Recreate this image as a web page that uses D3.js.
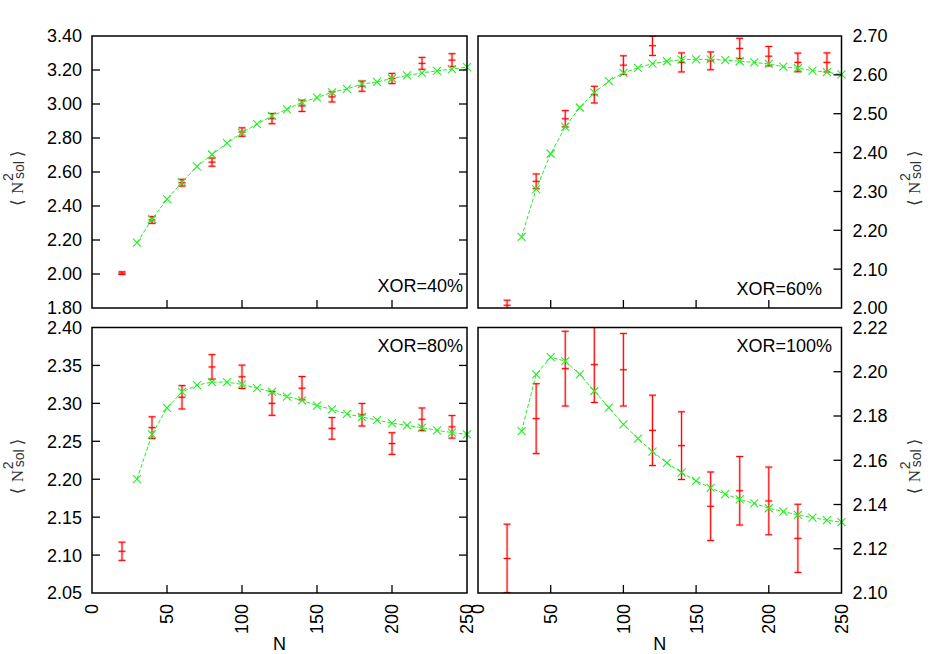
<!DOCTYPE html>
<html>
<head>
<meta charset="utf-8">
<script src="https://cdn.jsdelivr.net/npm/d3@7"></script>
<style>
  html, body { margin: 0; padding: 0; background: #fff; }
  svg { display: block; }
  text { font-family: "Liberation Sans", Arial, sans-serif; fill: #000; }
</style>
</head>
<body>
<svg id="chart" width="934" height="654"></svg>
<script>
// ---------------- data ----------------
const nFit = [30,40,50,60,70,80,90,100,110,120,130,140,150,160,170,180,190,200,210,220,230,240,250];
const nSim = [20,40,60,80,100,120,140,160,180,200,220,240];
const nSim100 = [20,40,60,80,100,120,140,160,180,200,220];

const fit40 = [2.184,2.322,2.440,2.540,2.633,2.703,2.770,2.831,2.882,2.930,2.969,3.010,3.038,3.069,3.089,3.117,3.130,3.150,3.168,3.183,3.195,3.205,3.217];
const sim40 = [2.005,2.318,2.537,2.658,2.835,2.914,2.989,3.042,3.105,3.150,3.239,3.258];
const err40 = [0.008,0.020,0.020,0.024,0.025,0.030,0.033,0.030,0.030,0.030,0.035,0.038];

const fit60 = [2.183,2.306,2.397,2.466,2.516,2.554,2.584,2.605,2.618,2.629,2.635,2.639,2.640,2.640,2.638,2.635,2.632,2.628,2.621,2.617,2.611,2.607,2.601];
const sim60 = [2.007,2.326,2.487,2.549,2.625,2.675,2.632,2.636,2.668,2.648,2.632,2.632];
const err60 = [0.013,0.019,0.021,0.0215,0.024,0.025,0.0245,0.023,0.026,0.025,0.024,0.0245];

const fit80 = [2.200,2.259,2.294,2.315,2.324,2.328,2.328,2.325,2.320,2.315,2.309,2.304,2.297,2.292,2.286,2.282,2.278,2.274,2.271,2.268,2.2645,2.2614,2.259];
const sim80 = [2.105,2.268,2.308,2.348,2.335,2.300,2.320,2.267,2.285,2.247,2.279,2.269];
const err80 = [0.012,0.0143,0.0154,0.0162,0.0154,0.0158,0.0154,0.0143,0.0149,0.0143,0.0149,0.0149];

const fit100 = [2.1732,2.1988,2.2066,2.2048,2.1988,2.1913,2.1838,2.1762,2.1698,2.1639,2.1588,2.1544,2.1507,2.1475,2.1447,2.1423,2.1405,2.1383,2.1368,2.1353,2.1341,2.1329,2.1320];
const sim100 = [2.1156,2.1788,2.2014,2.2032,2.2009,2.1735,2.1666,2.1392,2.1462,2.1416,2.1247];
const err100 = [0.0155,0.0158,0.0169,0.0171,0.0164,0.0159,0.0153,0.0155,0.0155,0.0153,0.0154];

const xTicks = [0,50,100,150,200,250];
const yTicks40 = [1.80,2.00,2.20,2.40,2.60,2.80,3.00,3.20,3.40];
const yTicks60 = [2.00,2.10,2.20,2.30,2.40,2.50,2.60,2.70];
const yTicks80 = [2.05,2.10,2.15,2.20,2.25,2.30,2.35,2.40];
const yTicks100 = [2.10,2.12,2.14,2.16,2.18,2.20,2.22];
const labels = ["XOR=40%","XOR=60%","XOR=80%","XOR=100%"];

// ---------------- layout ----------------
const panels = [
  {x0:92,  x1:467,   y0:36,    y1:308, dom:[1.80,3.40], ticks:yTicks40,  side:"left",  bottom:false,
   fit:fit40, sim:sim40, err:err40, nS:nSim, label:labels[0], lx:463, ly:292},
  {x0:478, x1:841.5, y0:36,    y1:308, dom:[2.00,2.70], ticks:yTicks60,  side:"right", bottom:false,
   fit:fit60, sim:sim60, err:err60, nS:nSim, label:labels[1], lx:822, ly:295},
  {x0:92,  x1:467,   y0:327.5, y1:593, dom:[2.05,2.40], ticks:yTicks80,  side:"left",  bottom:true,
   fit:fit80, sim:sim80, err:err80, nS:nSim, label:labels[2], lx:463, ly:352},
  {x0:478, x1:841.5, y0:327.5, y1:593, dom:[2.10,2.22], ticks:yTicks100, side:"right", bottom:true,
   fit:fit100, sim:sim100, err:err100, nS:nSim100, label:labels[3], lx:832, ly:352}
];

const svg = d3.select("#chart");
const defs = svg.append("defs");
const fmt = d3.format(".2f");

panels.forEach((p, i) => {
  const x = d3.scaleLinear().domain([0,250]).range([p.x0, p.x1]);
  const y = d3.scaleLinear().domain(p.dom).range([p.y1, p.y0]);
  const g = svg.append("g");

  defs.append("clipPath").attr("id","clip"+i)
    .append("rect").attr("x",p.x0).attr("y",p.y0)
    .attr("width",p.x1-p.x0).attr("height",p.y1-p.y0);
  const clipG = g.append("g").attr("clip-path","url(#clip"+i+")");

  // red error bars (simulation)
  const simData = p.nS.map((n,k)=>({n, v:p.sim[k], e:p.err[k]}));
  const eb = clipG.append("g").selectAll("g").data(simData).join("g");
  [{c:"rgba(255,80,80,0.35)", w:2.6},{c:"#ff0000", w:1}].forEach(st => {
    eb.append("line")
      .attr("x1",d=>x(d.n)).attr("x2",d=>x(d.n))
      .attr("y1",d=>y(d.v-d.e)).attr("y2",d=>y(d.v+d.e))
      .attr("stroke",st.c).attr("stroke-width",st.w);
    eb.append("line")
      .attr("x1",d=>x(d.n)-3.5).attr("x2",d=>x(d.n)+3.5)
      .attr("y1",d=>y(d.v+d.e)).attr("y2",d=>y(d.v+d.e))
      .attr("stroke",st.c).attr("stroke-width",st.w);
    eb.append("line")
      .attr("x1",d=>x(d.n)-3.5).attr("x2",d=>x(d.n)+3.5)
      .attr("y1",d=>y(d.v-d.e)).attr("y2",d=>y(d.v-d.e))
      .attr("stroke",st.c).attr("stroke-width",st.w);
    eb.append("line")
      .attr("x1",d=>x(d.n)-3.5).attr("x2",d=>x(d.n)+3.5)
      .attr("y1",d=>y(d.v)).attr("y2",d=>y(d.v))
      .attr("stroke",st.c).attr("stroke-width",st.w);
  });

  // green dashed fit line with x markers
  const fitData = nFit.map((n,k)=>({n, v:p.fit[k]}));
  g.append("path").datum(fitData)
    .attr("d", d3.line().x(d=>x(d.n)).y(d=>y(d.v)))
    .attr("fill","none").attr("stroke","#22ee22").attr("stroke-width",1)
    .attr("stroke-dasharray","4,2");
  const s = 4;
  g.append("g").selectAll("path").data(fitData).join("path")
    .attr("d", d=>`M${x(d.n)-s},${y(d.v)-s}L${x(d.n)+s},${y(d.v)+s}M${x(d.n)-s},${y(d.v)+s}L${x(d.n)+s},${y(d.v)-s}`)
    .attr("stroke","#22ee22").attr("stroke-width",1.1).attr("fill","none");

  // frame
  g.append("rect").attr("x",p.x0).attr("y",p.y0)
    .attr("width",p.x1-p.x0).attr("height",p.y1-p.y0)
    .attr("fill","none").attr("stroke","#000").attr("stroke-width",1.5);

  // inner y ticks
  const innerY = p.ticks.slice(1,-1);
  const tickSides = p.side === "left" ? [p.x0, p.x1] : [p.x1];
  tickSides.forEach(sx => {
    const dir = sx === p.x0 ? 1 : -1;
    g.append("g").selectAll("line").data(innerY).join("line")
      .attr("x1",sx).attr("x2",sx+dir*8)
      .attr("y1",d=>y(d)).attr("y2",d=>y(d))
      .attr("stroke","#000").attr("stroke-width",1.3);
  });
  // inner x ticks
  const innerX = xTicks.slice(1,-1);
  g.append("g").selectAll("line").data(innerX).join("line")
    .attr("x1",d=>x(d)).attr("x2",d=>x(d))
    .attr("y1",p.y1).attr("y2",p.y1-8)
    .attr("stroke","#000").attr("stroke-width",1.3);

  // y tick labels
  const lbl = g.append("g").selectAll("text").data(p.ticks).join("text")
    .attr("y",d=>y(d)).attr("dy","0.36em")
    .attr("font-size",18)
    .text(d=>fmt(d));
  if (p.side === "left") lbl.attr("x",p.x0-10).attr("text-anchor","end");
  else lbl.attr("x",p.x1+11).attr("text-anchor","start");

  // x tick labels + title for bottom panels
  if (p.bottom) {
    g.append("g").selectAll("text").data(xTicks).join("text")
      .attr("transform",d=>`translate(${x(d)},${p.y1+11}) rotate(-90)`)
      .attr("text-anchor","end").attr("dy","0.36em")
      .attr("font-size",18)
      .text(d=>d);
    g.append("text").attr("x",(p.x0+p.x1)/2).attr("y",650)
      .attr("text-anchor","middle").attr("font-size",18).text("N");
  }

  // panel label
  g.append("text").attr("x",p.lx).attr("y",p.ly)
    .attr("text-anchor","end").attr("font-size",18).text(p.label);

  // y axis title
  const tx = p.side === "left" ? 17 : 914;
  const ty = (p.y0 + p.y1) / 2 + 5;
  const tg = g.append("g").attr("transform",`translate(${tx},${ty}) rotate(-90)`);
  tg.append("text").attr("x",-29).attr("y",6).attr("font-size",17)
    .style("font-family","DejaVu Sans").style("fill","#333").text("\u27E8");
  tg.append("text").attr("x",-17).attr("y",6).attr("font-size",17)
    .style("font-family","Liberation Serif, DejaVu Serif, serif").style("fill","#333").text("N");
  tg.append("text").attr("x",-4).attr("y",-4).attr("font-size",14)
    .style("fill","#333").text("2");
  tg.append("text").attr("x",-2).attr("y",7).attr("font-size",14)
    .style("fill","#333").text("sol");
  tg.append("text").attr("x",20).attr("y",6).attr("font-size",17)
    .style("font-family","DejaVu Sans").style("fill","#333").text("\u27E9");
});
</script>
</body>
</html>
